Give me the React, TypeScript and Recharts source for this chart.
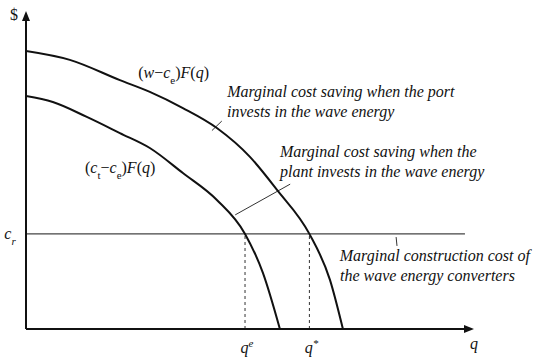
import React from 'react';
import { LineChart, Line, XAxis, YAxis, ReferenceLine, ReferenceDot } from 'recharts';

// Values (abstract units, 0-100 on both axes)
const portQ = [0, 9.8, 21.0, 27.7, 35.1, 42.7, 50.1, 56.2, 63.4, 68.0, 70.9];
const portValue = [87.7, 84.9, 78.5, 74.8, 69.7, 63.4, 54.3, 43.8, 30.0, 15.5, 0];

const plantQ = [0, 6.0, 13.6, 21.0, 27.7, 35.1, 42.7, 49.0, 53.0, 56.8];
const plantValue = [73.5, 71.6, 66.9, 61.8, 57.1, 49.2, 40.7, 30.0, 17.7, 0];

const costLevel = 30; // c_r
const qE = 49.0;
const qStar = 63.4;

const portData = portQ.map((q, i) => ({ q, v: portValue[i] }));
const plantData = plantQ.map((q, i) => ({ q, v: plantValue[i] }));

const FONT = 'Liberation Serif, Times New Roman, DejaVu Serif, serif';
const INK = '#111';

// text anchored at a data point, with pixel offset
const textShape =
  (content: React.ReactNode, dx = 0, dy = 0, anchor: 'start' | 'middle' | 'end' = 'start', italic = true) =>
  (props: any) => (
    <g style={{ fontFamily: FONT }}>
      <text
        x={props.cx + dx}
        y={props.cy + dy}
        textAnchor={anchor}
        fontFamily={FONT}
        fontSize={16}
        fontStyle={italic ? 'italic' : 'normal'}
        fill={INK}
      >
        {content}
      </text>
    </g>
  );

const arrowUp = (props: any) => (
  <path d={`M${props.cx - 4},${props.cy + 9} L${props.cx},${props.cy - 1} L${props.cx + 4},${props.cy + 9} Z`} fill={INK} />
);
const arrowRight = (props: any) => (
  <path d={`M${props.cx - 9},${props.cy - 4} L${props.cx + 1},${props.cy} L${props.cx - 9},${props.cy + 4} Z`} fill={INK} />
);

const sub = (s: string) => (
  <tspan baselineShift="sub" fontSize={11}>{s}</tspan>
);
const it = (s: string) => <tspan fontStyle="italic">{s}</tspan>;

export default function App() {
  return (
    <div style={{ position: 'absolute', left: 0, top: 0, background: '#fff', fontFamily: FONT }}>
      <LineChart width={550} height={363} margin={{ top: 12, left: 26, right: 77, bottom: 34 }} style={{ fontFamily: FONT }}>
        <XAxis type="number" dataKey="q" domain={[0, 100]} hide allowDataOverflow />
        <YAxis type="number" dataKey="v" domain={[0, 100]} hide allowDataOverflow />

        {/* c_r and the dashed drops */}
        <ReferenceLine segment={[{ x: 0, y: costLevel }, { x: 98.2, y: costLevel }]} stroke="#444" strokeWidth={1.2} ifOverflow="visible" />
        <ReferenceLine segment={[{ x: qE, y: 0 }, { x: qE, y: costLevel }]} stroke="#333" strokeDasharray="3 3" ifOverflow="visible" />
        <ReferenceLine segment={[{ x: qStar, y: 0 }, { x: qStar, y: costLevel }]} stroke="#333" strokeDasharray="3 3" ifOverflow="visible" />

        {/* leader lines */}
        <ReferenceLine segment={[{ x: 41.6, y: 62.6 }, { x: 43.8, y: 65.6 }]} stroke="#333" ifOverflow="visible" />
        <ReferenceLine segment={[{ x: 46.8, y: 36.0 }, { x: 59.1, y: 45.7 }]} stroke="#333" ifOverflow="visible" />
        <ReferenceLine segment={[{ x: 82.8, y: 29.0 }, { x: 83.0, y: 26.2 }]} stroke="#333" ifOverflow="visible" />

        <Line data={portData} dataKey="v" type="monotone" stroke={INK} strokeWidth={2} dot={false} isAnimationActive={false} />
        <Line data={plantData} dataKey="v" type="monotone" stroke={INK} strokeWidth={2} dot={false} isAnimationActive={false} />

        {/* axes */}
        <ReferenceLine segment={[{ x: 0, y: 0 }, { x: 98.5, y: 0 }]} stroke={INK} strokeWidth={2} ifOverflow="visible" />
        <ReferenceLine segment={[{ x: 0, y: 0 }, { x: 0, y: 98 }]} stroke={INK} strokeWidth={2} ifOverflow="visible" />
        <ReferenceDot x={0} y={100} r={0} ifOverflow="visible" shape={arrowUp} />
        <ReferenceDot x={100} y={0} r={0} ifOverflow="visible" shape={arrowRight} />

        {/* axis labels */}
        <ReferenceDot x={0} y={100} r={0} ifOverflow="visible" shape={textShape('$', -12, 8, 'middle', false)} />
        <ReferenceDot x={100} y={0} r={0} ifOverflow="visible" shape={textShape('q', 1, 20, 'middle')} />
        <ReferenceDot x={0} y={costLevel} r={0} ifOverflow="visible" shape={textShape(<>c{sub('r')}</>, -16, 5, 'middle')} />
        <ReferenceDot x={qE} y={0} r={0} ifOverflow="visible"
          shape={textShape(<>q<tspan baselineShift="super" fontSize={11}>e</tspan></>, 2, 24, 'middle')} />
        <ReferenceDot x={qStar} y={0} r={0} ifOverflow="visible"
          shape={textShape(<>q<tspan baselineShift="super" fontSize={11}>*</tspan></>, 2, 24, 'middle')} />

        {/* curve labels */}
        <ReferenceDot x={25.1} y={79.2} r={0} ifOverflow="visible"
          shape={textShape(<>({it('w')}−{it('c')}{sub('e')}){it('F')}({it('q')})</>, 0, 0, 'start', false)} />
        <ReferenceDot x={13.2} y={49.2} r={0} ifOverflow="visible"
          shape={textShape(<>({it('c')}{sub('t')}−{it('c')}{sub('e')}){it('F')}({it('q')})</>, 0, 0, 'start', false)} />

        {/* annotations */}
        <ReferenceDot x={45.0} y={73.2} r={0} ifOverflow="visible"
          shape={textShape(<><tspan>Marginal cost saving when the port</tspan><tspan x={227} dy={20}>invests in the wave energy</tspan></>)} />
        <ReferenceDot x={56.8} y={54.3} r={0} ifOverflow="visible"
          shape={textShape(<><tspan>Marginal cost saving when the</tspan><tspan x={280} dy={20}>plant invests in the wave energy</tspan></>)} />
        <ReferenceDot x={70.2} y={21.5} r={0} ifOverflow="visible"
          shape={textShape(<><tspan>Marginal construction cost of</tspan><tspan x={340} dy={20}>the wave energy converters</tspan></>)} />
      </LineChart>
    </div>
  );
}
